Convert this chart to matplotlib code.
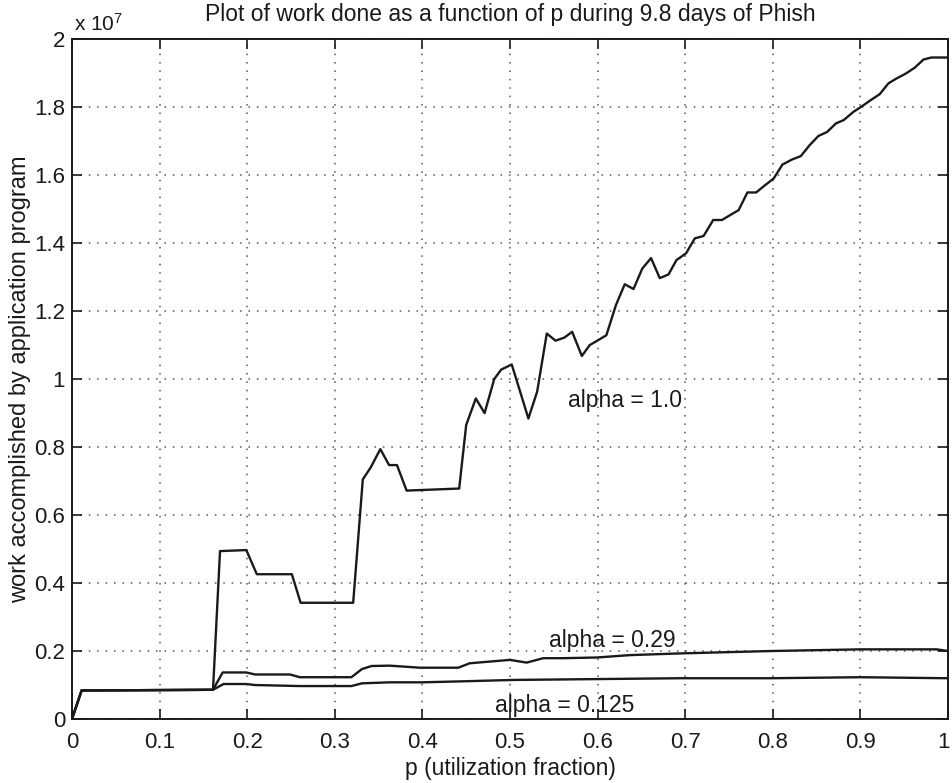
import matplotlib
matplotlib.use('Agg')
import matplotlib.pyplot as plt
import matplotlib.transforms as mtransforms
from matplotlib.ticker import FuncFormatter

plt.rcParams['font.family'] = ['Liberation Sans', 'DejaVu Sans']
plt.rcParams['mathtext.fontset'] = 'custom'
plt.rcParams['mathtext.rm'] = 'Liberation Sans'
plt.rcParams['mathtext.it'] = 'Liberation Sans'

# work done (units of 1e7) vs p
p_a10 = [0, 0.011, 0.161, 0.169, 0.199, 0.211, 0.251, 0.261, 0.321, 0.332,
         0.341, 0.352, 0.362, 0.371, 0.382, 0.442, 0.450, 0.461, 0.471, 0.482,
         0.490, 0.502, 0.511, 0.521, 0.531, 0.542, 0.552, 0.562, 0.571, 0.582,
         0.591, 0.601, 0.610, 0.621, 0.631, 0.641, 0.651, 0.661, 0.671, 0.681,
         0.690, 0.701, 0.711, 0.721, 0.732, 0.742, 0.751, 0.761, 0.771, 0.781,
         0.791, 0.801, 0.811, 0.822, 0.832, 0.842, 0.852, 0.862, 0.872, 0.881,
         0.892, 0.902, 0.912, 0.922, 0.932, 0.941, 0.952, 0.962, 0.972, 0.981,
         1.0]
w_a10 = [0, 0.084, 0.086, 0.494, 0.497, 0.426, 0.426, 0.342, 0.342, 0.705,
         0.740, 0.794, 0.747, 0.747, 0.672, 0.678, 0.865, 0.943, 0.900, 1.000,
         1.028, 1.043, 0.968, 0.884, 0.963, 1.134, 1.113, 1.122, 1.139, 1.068,
         1.100, 1.115, 1.129, 1.218, 1.279, 1.265, 1.325, 1.356, 1.297, 1.308,
         1.350, 1.370, 1.414, 1.421, 1.468, 1.468, 1.482, 1.497, 1.549, 1.549,
         1.570, 1.590, 1.631, 1.646, 1.656, 1.688, 1.715, 1.727, 1.752, 1.762,
         1.786, 1.803, 1.821, 1.838, 1.870, 1.884, 1.899, 1.916, 1.940, 1.946,
         1.946]

p_a029 = [0, 0.011, 0.161, 0.172, 0.199, 0.209, 0.249, 0.260, 0.319, 0.331,
          0.342, 0.363, 0.397, 0.441, 0.454, 0.477, 0.500, 0.519, 0.538, 0.561,
          0.599, 0.637, 0.694, 0.797, 0.900, 0.987, 1.0]
w_a029 = [0, 0.084, 0.086, 0.137, 0.137, 0.131, 0.131, 0.123, 0.123, 0.147,
          0.156, 0.157, 0.151, 0.151, 0.164, 0.169, 0.174, 0.166, 0.179, 0.179,
          0.181, 0.188, 0.193, 0.200, 0.205, 0.205, 0.200]

p_a0125 = [0, 0.011, 0.161, 0.173, 0.199, 0.209, 0.260, 0.319, 0.331, 0.363,
           0.400, 0.447, 0.504, 0.580, 0.694, 0.797, 0.900, 1.0]
w_a0125 = [0, 0.084, 0.086, 0.103, 0.103, 0.100, 0.097, 0.097, 0.105, 0.108,
           0.108, 0.111, 0.115, 0.117, 0.120, 0.120, 0.123, 0.120]

ink = '#1a1a1a'
fs = 16.5

fig = plt.figure(figsize=(9.52, 7.83), dpi=100)
ax = fig.add_axes([0.0756, 0.0817, 0.9202, 0.8683])

ax.plot(p_a10, w_a10, color=ink, lw=1.7)
ax.plot(p_a029, w_a029, color=ink, lw=1.7)
ax.plot(p_a0125, w_a0125, color=ink, lw=1.7)

ax.set_xlim(0, 1)
ax.set_ylim(0, 2)
ax.set_xticks([i / 10 for i in range(11)])
ax.set_yticks([i / 5 for i in range(11)])
ax.xaxis.set_major_formatter(FuncFormatter(lambda v, pos: '%g' % round(v, 2)))
ax.yaxis.set_major_formatter(FuncFormatter(lambda v, pos: '%g' % round(v, 2)))
ax.tick_params(direction='in', top=True, right=True, length=7, width=1.2,
               labelsize=16, colors=ink)
ax.tick_params(axis='x', pad=9)
ax.tick_params(axis='y', pad=5)
ax.grid(True, linestyle=(0, (1, 4.5)), color='#555555', lw=1.1)
for s in ax.spines.values():
    s.set_linewidth(1.4)
    s.set_color(ink)

# the "1" at the right edge sits right on the border; nudge it inside
last = ax.get_xticklabels()[-1]
last.set_transform(last.get_transform() +
                   mtransforms.ScaledTranslation(-3 / 72, 0, fig.dpi_scale_trans))

ax.text(0.002, 1.013, r'x 10$^7$', transform=ax.transAxes, fontsize=15,
        ha='left', va='baseline', color=ink)
ax.set_title('Plot of work done as a function of p during 9.8 days of Phish',
             fontsize=fs, pad=13, color=ink)
ax.set_xlabel('p (utilization fraction)', fontsize=fs, labelpad=3, color=ink)
ax.set_ylabel('work accomplished by application program', fontsize=17,
              labelpad=2, color=ink)

ax.text(0.566, 0.938, 'alpha = 1.0', fontsize=fs, va='center', color=ink)
ax.text(0.5445, 0.232, 'alpha = 0.29', fontsize=fs, va='center', color=ink)
ax.text(0.483, 0.041, 'alpha = 0.125', fontsize=fs, va='center', color=ink)

fig.savefig('out.png', dpi=100)
